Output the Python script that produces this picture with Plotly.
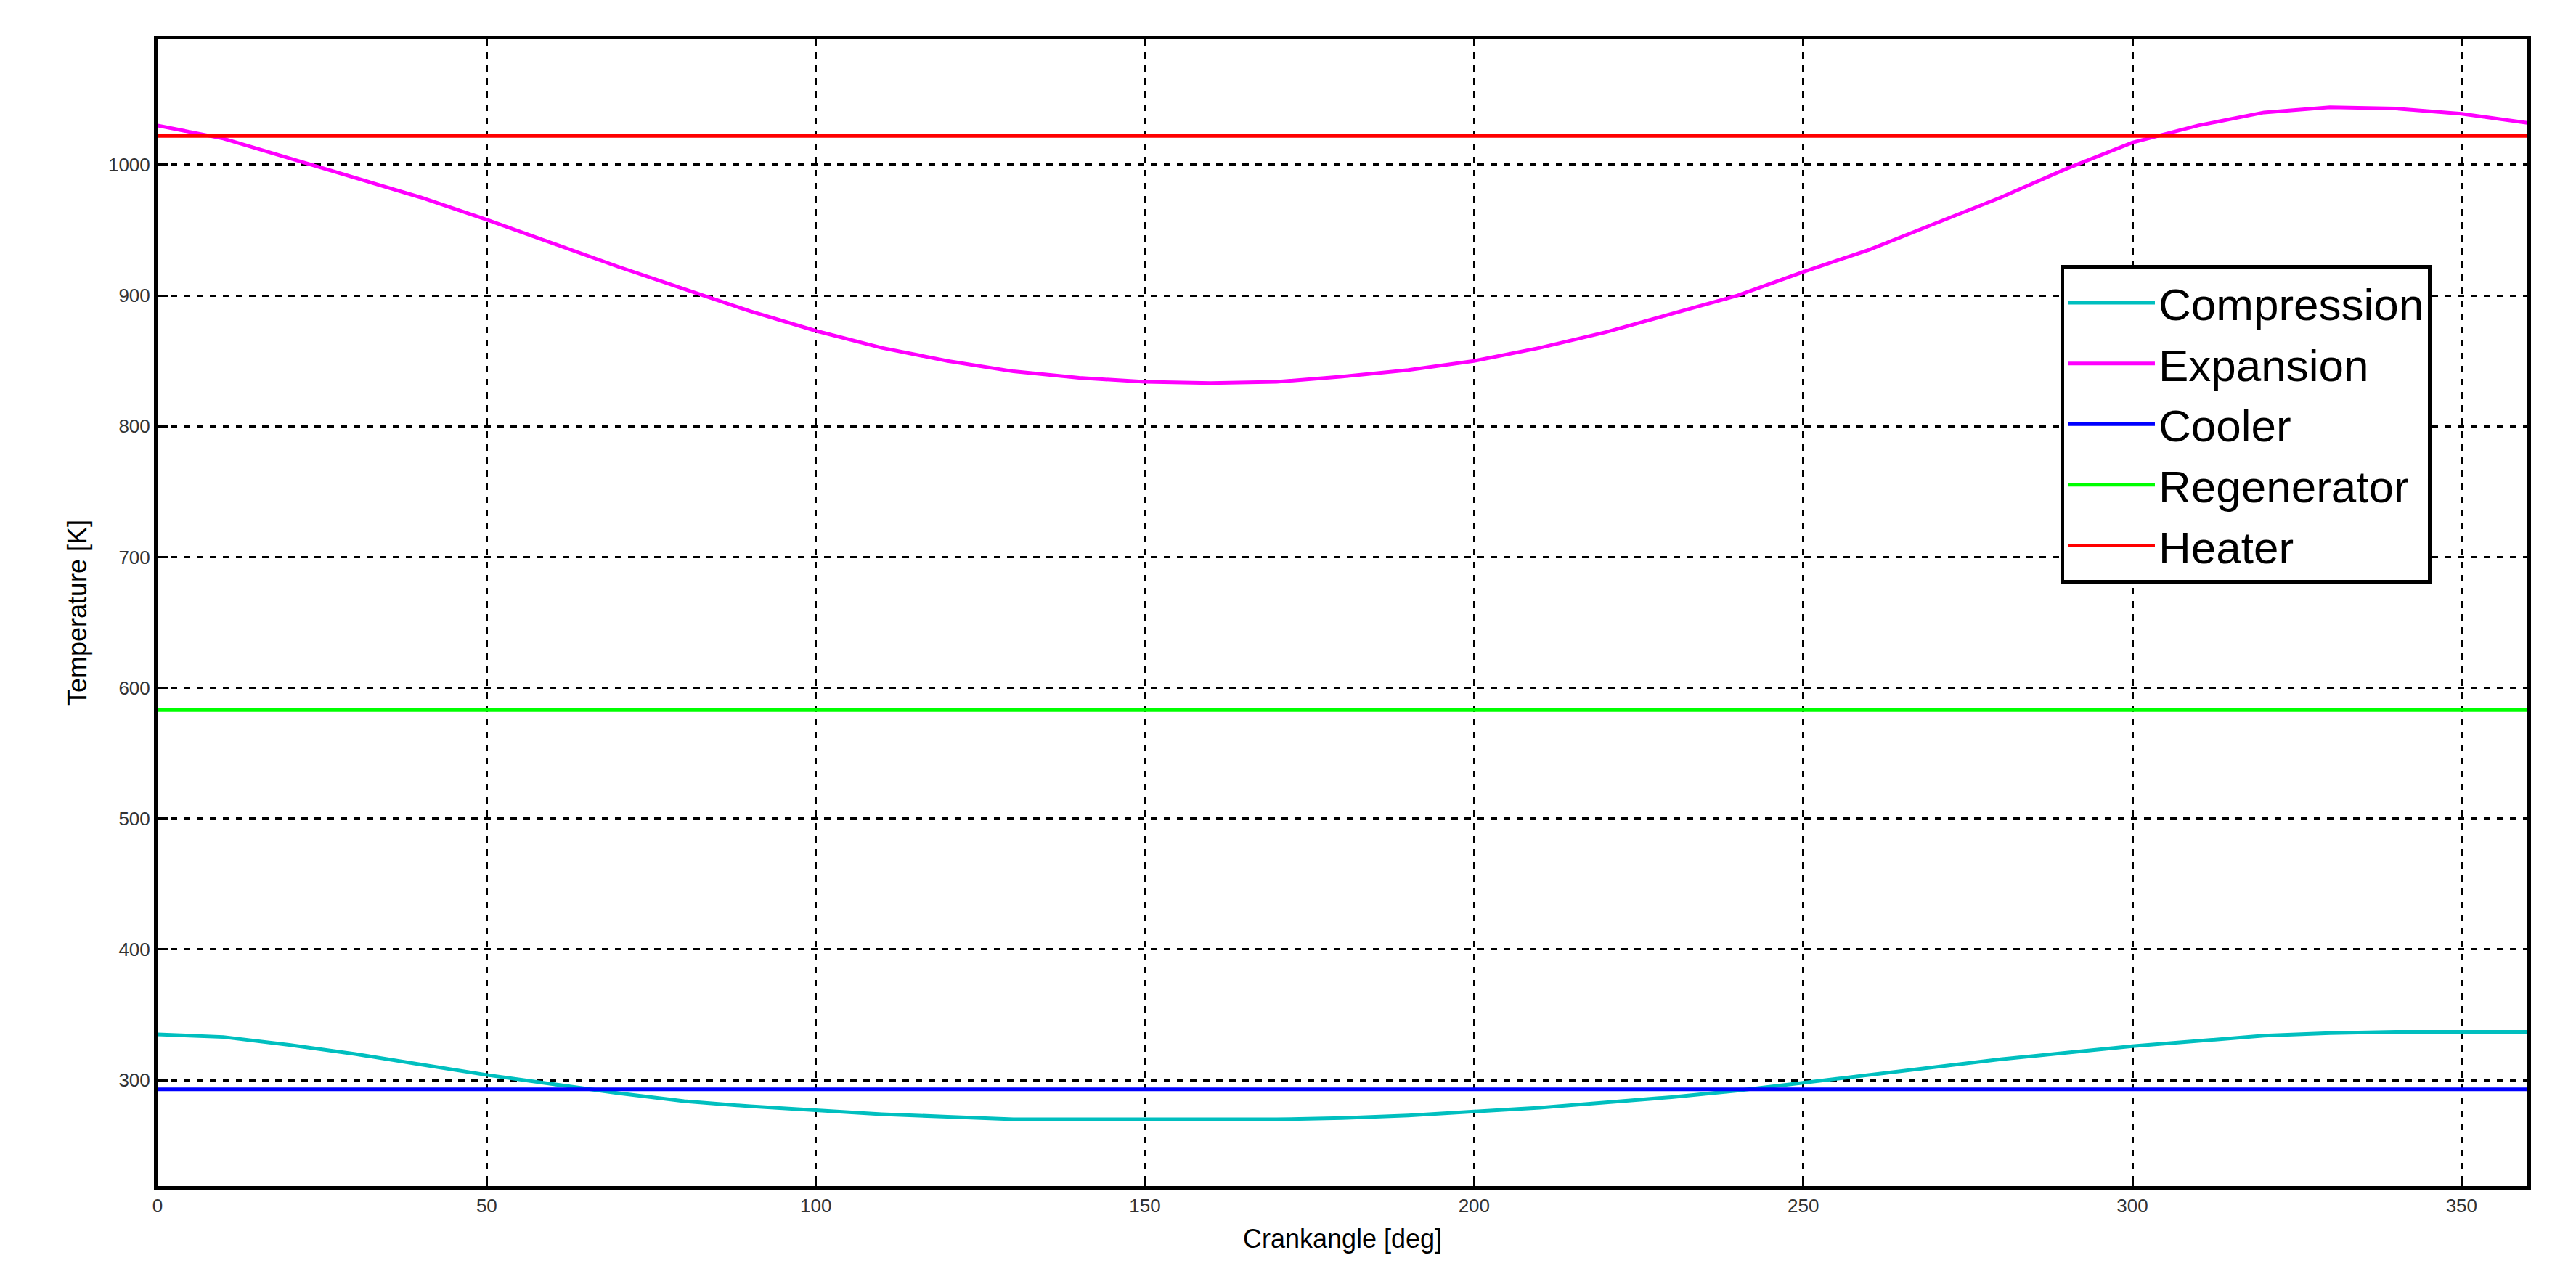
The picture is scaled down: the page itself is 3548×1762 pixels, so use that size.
import plotly.graph_objects as go

angle = list(range(0, 361, 10))
expansion = [1030,1020,1005,990,975,958,940,922,905,888,873,860,850,842,837,834,833,834,838,843,850,860,872,886,900,918,935,955,975,997,1017,1030,1040,1044,1043,1039,1032]
compression = [335,333,327,320,312,304,297,290,284,280,277,274,272,270,270,270,270,270,271,273,276,279,283,287,292,298,304,310,316,321,326,330,334,336,337,337,337]
cooler = [293]*len(angle)
regenerator = [583]*len(angle)
heater = [1022]*len(angle)

fig = go.Figure()
for name, y, c in [("Compression", compression, "#00BFBF"), ("Expansion", expansion, "#FF00FF"),
                   ("Cooler", cooler, "#0000FF"), ("Regenerator", regenerator, "#00FF00"),
                   ("Heater", heater, "#FF0000")]:
    fig.add_trace(go.Scatter(x=angle, y=y, name=name, mode="lines", line=dict(color=c, width=5)))

ax = dict(showline=True, linecolor="black", linewidth=5, mirror=True, ticks="inside", ticklen=14,
          tickwidth=3, tickcolor="black", showgrid=True, gridcolor="black", griddash="dash",
          gridwidth=3, zeroline=False, tickfont=dict(size=26, color="#333"))
fig.update_layout(
    width=3548, height=1762, plot_bgcolor="white", paper_bgcolor="white",
    margin=dict(l=209, r=75, t=46, b=136),
    font=dict(family="Liberation Sans", color="black"),
    xaxis=dict(range=[0, 360], tickvals=list(range(0, 351, 50)),
               title=dict(text="Crankangle [deg]", font=dict(size=36), standoff=20), **ax),
    yaxis=dict(range=[219, 1096], tickvals=list(range(300, 1001, 100)),
               title=dict(text="Temperature [K]", font=dict(size=36), standoff=20), **ax),
    legend=dict(x=0.803, y=0.803, xanchor="left", yanchor="top", bgcolor="white",
                bordercolor="black", borderwidth=5, font=dict(size=62), tracegroupgap=0,
                itemwidth=120),
)
fig.write_html("out.html")
